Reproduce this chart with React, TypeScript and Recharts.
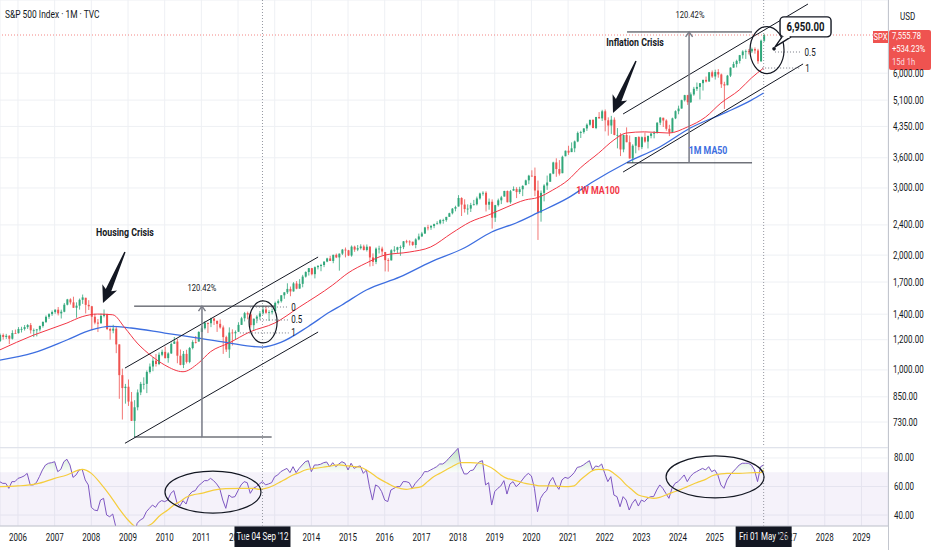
import React from "react";
import {
  Area,
  Bar,
  CartesianGrid,
  ComposedChart,
  Line,
  ReferenceArea,
  ReferenceDot,
  ReferenceLine,
  XAxis,
  YAxis,
} from "recharts";

const FONT = "Roboto, 'Noto Sans', sans-serif";
const SX = 0.8; // the screenshot's type is narrow, squeeze it horizontally
const INK = "#131722";
const UP = "#31a77b";
const DOWN = "#ef5350";
const GRID = "#eef0f4";
const MA_RED = "#f23645";
const MA_BLUE = "#3d6ee0";

// monthly bars, first one is Jun 2005; open = previous close
const FIRST_MONTH = "2005-06";
const FIRST_OPEN = 1191.5;

const CLOSE = [
  1191.3, 1234.2, 1220.3, 1228.8, 1207.0, 1249.5, 1248.3,
  1280.1, 1280.7, 1294.9, 1310.6, 1270.1, 1270.2, 1276.7, 1303.8, 1335.9, 1377.9, 1400.6, 1418.3,
  1438.2, 1406.8, 1420.9, 1482.4, 1530.6, 1503.4, 1455.3, 1474.0, 1526.8, 1549.4, 1481.1, 1468.4,
  1378.6, 1330.6, 1322.7, 1385.6, 1400.4, 1280.0, 1267.4, 1282.8, 1166.4, 968.8, 896.2, 903.3,
  825.9, 735.1, 797.9, 872.8, 919.1, 919.3, 987.5, 1020.6, 1057.1, 1036.2, 1095.6, 1115.1,
  1073.9, 1104.5, 1169.4, 1186.7, 1089.4, 1030.7, 1101.6, 1049.3, 1141.2, 1183.3, 1180.6, 1257.6,
  1286.1, 1327.2, 1325.8, 1363.6, 1345.2, 1320.6, 1292.3, 1218.9, 1131.4, 1253.3, 1247.0, 1257.6,
  1312.4, 1365.7, 1408.5, 1397.9, 1310.3, 1362.2, 1379.3, 1406.6, 1440.7, 1412.2, 1416.2, 1426.2,
  1498.1, 1514.7, 1569.2, 1597.6, 1630.7, 1606.3, 1685.7, 1633.0, 1681.6, 1756.5, 1805.8, 1848.4,
  1782.6, 1859.5, 1872.3, 1884.0, 1923.6, 1960.2, 1930.7, 2003.4, 1972.3, 2018.1, 2067.6, 2058.9,
  1995.0, 2104.5, 2067.9, 2085.5, 2107.4, 2063.1, 2103.8, 1972.2, 1920.0, 2079.4, 2080.4, 2043.9,
  1940.2, 1932.2, 2059.7, 2065.3, 2097.0, 2098.9, 2173.6, 2171.0, 2168.3, 2126.2, 2198.8, 2238.8,
  2278.9, 2363.6, 2362.7, 2384.2, 2411.8, 2423.4, 2470.3, 2471.7, 2519.4, 2575.3, 2647.6, 2673.6,
  2823.8, 2713.8, 2640.9, 2648.1, 2705.3, 2718.4, 2816.3, 2901.5, 2914.0, 2711.7, 2760.2, 2506.9,
  2704.1, 2784.5, 2834.4, 2945.8, 2752.1, 2941.8, 2980.4, 2926.5, 2976.7, 3037.6, 3141.0, 3230.8,
  3225.5, 2954.2, 2584.6, 2912.4, 3044.3, 3100.3, 3271.1, 3500.3, 3363.0, 3270.0, 3621.6, 3756.1,
  3714.2, 3811.2, 3972.9, 4181.2, 4204.1, 4297.5, 4395.3, 4522.7, 4307.5, 4605.4, 4567.0, 4766.2,
  4515.6, 4373.9, 4530.4, 4131.9, 4132.2, 3785.4, 4130.3, 3955.0, 3585.6, 3872.0, 4080.1, 3839.5,
  4076.6, 3970.2, 4109.3, 4169.5, 4179.8, 4450.4, 4589.0, 4507.7, 4288.1, 4193.8, 4567.8, 4769.8,
  4845.7, 5096.3, 5254.4, 5035.7, 5277.5, 5460.5, 5522.3, 5648.4, 5762.5, 5705.5, 6032.4, 5881.6,
  6040.5, 5954.5, 5611.9, 5569.1, 5911.7, 6205.0, 6339.4, 6460.3, 6688.5, 6840.0, 6849.0, 6845.5,
  6940.0, 6880.0, 6450.0, 7300.0, 7555.78,
];

const HIGH = [
  1219.6, 1245.2, 1245.9, 1243.1, 1233.3, 1270.6, 1275.8,
  1294.9, 1297.6, 1310.9, 1318.2, 1326.7, 1284.1, 1280.4, 1306.7, 1340.3, 1389.5, 1407.9, 1431.8,
  1441.6, 1461.6, 1438.9, 1498.0, 1535.6, 1540.6, 1555.9, 1503.9, 1538.7, 1576.1, 1545.8, 1523.6,
  1471.8, 1404.1, 1359.7, 1404.6, 1440.2, 1404.1, 1292.2, 1313.2, 1303.0, 1167.0, 1007.5, 918.9,
  943.9, 875.0, 833.0, 888.7, 930.2, 956.2, 996.7, 1039.5, 1080.2, 1101.4, 1111.1, 1130.4,
  1150.5, 1112.4, 1180.2, 1219.8, 1206.1, 1131.2, 1121.0, 1129.2, 1148.7, 1196.1, 1227.1, 1262.6,
  1302.7, 1344.1, 1332.3, 1370.6, 1370.6, 1345.2, 1356.5, 1307.4, 1229.3, 1292.7, 1277.6, 1269.4,
  1333.5, 1378.0, 1419.2, 1422.4, 1415.3, 1363.5, 1391.7, 1426.7, 1474.5, 1471.0, 1434.3, 1448.0,
  1509.9, 1530.9, 1570.3, 1597.6, 1687.2, 1654.2, 1698.8, 1709.7, 1729.9, 1775.2, 1813.6, 1849.4,
  1850.8, 1867.9, 1884.0, 1897.3, 1924.0, 1968.2, 1991.4, 2005.0, 2019.3, 2018.7, 2075.8, 2093.6,
  2064.4, 2119.6, 2117.5, 2125.9, 2134.7, 2129.9, 2132.8, 2112.7, 2020.9, 2094.3, 2116.5, 2104.3,
  2038.2, 1963.0, 2072.2, 2111.1, 2103.5, 2120.6, 2177.1, 2193.8, 2187.9, 2169.6, 2214.1, 2277.5,
  2301.0, 2371.5, 2401.1, 2398.2, 2418.7, 2453.8, 2484.0, 2491.0, 2519.4, 2583.0, 2657.7, 2695.0,
  2872.9, 2836.0, 2801.9, 2717.5, 2742.2, 2791.5, 2848.0, 2916.5, 2940.9, 2939.9, 2815.1, 2800.2,
  2709.0, 2813.5, 2860.3, 2949.5, 2954.1, 2964.2, 3028.0, 3013.6, 3022.0, 3050.1, 3154.3, 3247.9,
  3337.8, 3393.5, 3136.7, 2954.9, 3068.7, 3233.1, 3280.0, 3514.8, 3588.1, 3549.9, 3646.0, 3760.2,
  3870.9, 3950.4, 3994.4, 4218.8, 4238.0, 4302.4, 4430.0, 4537.4, 4545.8, 4608.1, 4743.8, 4808.9,
  4818.6, 4595.3, 4637.3, 4593.5, 4307.7, 4177.5, 4140.2, 4325.3, 4119.3, 3905.4, 4080.1, 4101.0,
  4094.2, 4195.4, 4110.8, 4170.1, 4231.1, 4458.5, 4607.1, 4584.6, 4541.3, 4393.6, 4587.6, 4793.3,
  4931.1, 5111.1, 5264.9, 5264.0, 5341.9, 5523.6, 5669.7, 5651.6, 5767.4, 5878.5, 6044.2, 6100.0,
  6128.2, 6147.4, 5986.1, 5695.3, 5938.6, 6215.1, 6427.0, 6508.2, 6699.5, 6890.0, 6920.0, 6940.0,
  7000.0, 7010.0, 6950.0, 7350.0, 7600.0,
];

const LOW = [
  1188.3, 1183.6, 1201.1, 1205.4, 1168.2, 1201.1, 1246.6,
  1245.7, 1253.6, 1268.1, 1280.7, 1245.3, 1219.3, 1224.5, 1261.3, 1290.9, 1327.1, 1360.9, 1385.9,
  1403.9, 1389.4, 1363.9, 1416.4, 1476.7, 1484.2, 1454.3, 1370.6, 1439.3, 1489.6, 1406.1, 1435.6,
  1270.1, 1316.8, 1257.0, 1324.4, 1373.1, 1272.0, 1200.4, 1247.5, 1106.4, 839.8, 741.0, 815.7,
  804.5, 734.5, 666.8, 783.3, 858.7, 888.9, 869.3, 978.5, 991.9, 1020.2, 1029.4, 1085.9,
  1071.6, 1044.5, 1101.4, 1170.7, 1040.8, 1028.3, 1010.9, 1039.7, 1041.1, 1131.9, 1173.0, 1186.6,
  1257.6, 1275.9, 1249.1, 1294.7, 1311.8, 1258.1, 1282.9, 1101.5, 1114.2, 1074.8, 1158.7, 1202.4,
  1258.9, 1312.0, 1340.0, 1357.4, 1292.0, 1266.7, 1325.4, 1354.7, 1396.6, 1403.3, 1343.4, 1398.1,
  1426.2, 1485.0, 1501.5, 1536.0, 1581.3, 1560.3, 1604.6, 1627.5, 1633.4, 1646.5, 1746.2, 1768.0,
  1770.5, 1737.9, 1834.4, 1814.4, 1859.8, 1916.0, 1930.7, 1904.8, 1964.0, 1820.7, 2001.0, 1972.6,
  1988.4, 1980.9, 2039.7, 2048.4, 2067.9, 2056.3, 2044.0, 1867.0, 1871.9, 1893.7, 2019.4, 1993.3,
  1812.3, 1810.1, 1937.1, 2033.8, 2025.9, 1991.7, 2074.0, 2147.6, 2119.1, 2114.7, 2083.8, 2187.4,
  2233.6, 2271.7, 2322.3, 2329.0, 2352.7, 2405.7, 2407.7, 2417.4, 2446.6, 2520.4, 2557.5, 2605.5,
  2682.4, 2532.7, 2585.9, 2553.8, 2594.6, 2698.7, 2699.0, 2796.3, 2864.1, 2603.5, 2631.1, 2346.6,
  2444.0, 2681.8, 2722.3, 2848.6, 2750.5, 2728.8, 2952.2, 2822.1, 2891.9, 2855.9, 3050.7, 3070.3,
  3214.6, 2855.8, 2191.9, 2447.5, 2766.6, 2965.7, 3115.0, 3260.0, 3209.5, 3233.9, 3279.7, 3633.4,
  3662.7, 3725.6, 3723.3, 3955.3, 4056.9, 4164.4, 4233.1, 4367.7, 4305.9, 4278.9, 4560.0, 4495.1,
  4222.6, 4114.7, 4157.9, 4124.3, 3810.3, 3636.9, 3721.6, 3954.5, 3584.1, 3491.6, 3698.2, 3764.5,
  3794.3, 3943.1, 3808.9, 4049.3, 4048.3, 4166.2, 4385.1, 4335.3, 4238.6, 4103.8, 4197.7, 4546.5,
  4682.1, 4845.2, 5056.8, 4953.6, 5011.1, 5234.3, 5391.0, 5119.3, 5402.6, 5674.0, 5696.5, 5832.3,
  5773.3, 5837.7, 5488.7, 4835.0, 5578.6, 5861.4, 6201.6, 6212.7, 6360.6, 6550.0, 6540.0, 6720.0,
  6780.0, 6750.0, 6350.0, 6420.0, 7250.0,
];

const RSI = [
  63.0, 63.4, 62.2, 62.2, 58.7, 63.4, 63.4,
  65.7, 66.4, 67.4, 69.2, 61.1, 61.1, 62.7, 66.9, 71.6, 75.1, 76.3, 76.7,
  77.4, 70.4, 72.0, 77.4, 79.1, 75.1, 66.4, 68.1, 71.6, 72.0, 64.6, 61.1,
  45.4, 43.5, 43.0, 50.5, 51.7, 40.0, 38.8, 40.7, 31.8, 25.0, 22.0, 23.0,
  22.0, 19.0, 26.0, 34.2, 36.5, 37.7, 42.3, 44.7, 47.0, 45.4, 48.7, 50.1,
  49.4, 50.5, 55.2, 57.1, 48.7, 46.3, 50.1, 47.7, 54.0, 56.4, 57.1, 60.4,
  62.2, 64.1, 64.1, 65.7, 64.1, 61.8, 58.7, 50.5, 44.7, 54.0, 52.4, 52.9,
  57.1, 61.1, 63.4, 62.7, 55.2, 58.7, 59.9, 61.8, 63.4, 61.1, 61.8, 62.7,
  66.9, 68.1, 70.4, 71.6, 72.7, 69.7, 73.9, 69.7, 72.7, 75.1, 77.4, 78.1,
  70.4, 75.1, 75.1, 75.6, 76.7, 77.2, 73.9, 76.7, 73.9, 75.8, 77.4, 76.3,
  71.6, 76.3, 72.7, 73.9, 74.4, 69.2, 71.6, 59.9, 50.5, 61.1, 59.9, 56.4,
  50.5, 49.4, 57.5, 58.7, 59.9, 59.9, 63.4, 63.4, 62.7, 58.7, 62.2, 64.6,
  66.9, 70.4, 70.4, 71.6, 72.7, 73.9, 75.8, 75.8, 77.4, 79.8, 82.1, 84.4,
  86.8, 73.9, 68.8, 68.8, 71.1, 71.6, 75.1, 77.4, 78.1, 61.1, 62.7, 47.0,
  56.4, 58.7, 60.4, 64.1, 54.7, 61.8, 63.4, 59.9, 61.8, 64.6, 67.4, 69.2,
  67.4, 58.7, 42.3, 51.7, 55.2, 57.1, 63.4, 66.4, 61.1, 58.0, 64.6, 66.4,
  65.7, 67.4, 69.7, 73.4, 73.9, 75.1, 76.7, 78.1, 71.6, 74.4, 73.9, 75.8,
  69.2, 63.4, 66.9, 54.0, 52.9, 45.8, 52.9, 50.5, 43.5, 48.2, 51.0, 46.3,
  50.5, 49.4, 51.7, 52.9, 52.9, 57.5, 61.1, 58.7, 55.2, 51.7, 58.7, 62.2,
  63.4, 65.7, 68.1, 63.4, 66.9, 69.2, 70.4, 71.6, 72.7, 71.6, 73.9, 70.4,
  71.6, 68.1, 61.1, 58.7, 64.6, 68.1, 70.4, 72.7, 75.1, 76.3, 76.3, 76.3,
  75.1, 71.6, 63.4, 73.9, 75.1,
];

// indicator lines at a few dates
const MA100W: [string, number][] = [
  ["2005-07", 1128], ["2006-06", 1233], ["2007-05", 1327], ["2007-10", 1379],
  ["2008-03", 1401], ["2008-08", 1395], ["2008-12", 1288], ["2009-04", 1176],
  ["2009-09", 1083], ["2010-01", 1030], ["2010-07", 989], ["2010-12", 1041],
  ["2011-04", 1116], ["2011-10", 1176], ["2012-05", 1259], ["2013-01", 1327],
  ["2013-09", 1460], ["2014-08", 1670], ["2015-01", 1795], ["2015-07", 1907],
  ["2016-01", 2000], ["2016-09", 2037], ["2017-04", 2100], ["2017-11", 2285],
  ["2018-05", 2444], ["2018-11", 2549], ["2019-05", 2674], ["2019-11", 2791],
  ["2020-03", 2830], ["2020-08", 2963], ["2021-01", 3147], ["2021-05", 3385],
  ["2021-11", 3703], ["2022-04", 4009], ["2022-08", 4180], ["2023-02", 4210],
  ["2023-10", 4180], ["2024-04", 4334], ["2024-10", 4604], ["2025-03", 5009],
  ["2025-09", 5421], ["2026-01", 5828], ["2026-05", 6190],
];

const MA50M: [string, number][] = [
  ["2005-07", 1061], ["2006-06", 1108], ["2007-05", 1198], ["2008-01", 1273],
  ["2008-07", 1300], ["2009-02", 1288], ["2010-01", 1249], ["2010-12", 1212],
  ["2011-09", 1181], ["2012-09", 1148], ["2013-03", 1181], ["2013-12", 1300],
  ["2014-07", 1418], ["2014-11", 1480], ["2015-07", 1620], ["2016-06", 1753],
  ["2017-04", 1918], ["2018-03", 2088], ["2018-12", 2300], ["2019-08", 2428],
  ["2020-03", 2580], ["2021-01", 2825], ["2021-09", 3109], ["2022-08", 3489],
  ["2023-07", 3843], ["2024-05", 4309], ["2025-05", 4748], ["2026-01", 5100],
  ["2026-05", 5323],
];

const RSI_MA: [string, number][] = [
  ["2005-07", 59.9], ["2006-01", 60.4], ["2006-07", 61.8], ["2007-01", 65.7],
  ["2007-05", 68.1], ["2007-10", 72.0], ["2008-01", 69.2], ["2008-04", 62.2],
  ["2008-07", 54.0], ["2008-10", 44.7], ["2009-01", 36.5], ["2009-03", 32.3],
  ["2009-05", 29.5], ["2009-07", 31.8], ["2009-09", 34.2], ["2009-11", 38.8],
  ["2010-02", 43.5], ["2010-04", 47.0], ["2010-06", 49.4], ["2010-08", 52.4],
  ["2010-10", 54.0], ["2011-01", 55.2], ["2011-05", 57.5], ["2011-09", 58.5],
  ["2012-02", 58.7], ["2012-06", 58.7], ["2012-08", 58.0], ["2012-10", 58.7],
  ["2013-01", 61.1], ["2013-03", 63.4], ["2013-05", 65.7], ["2013-07", 68.1],
  ["2013-09", 69.7], ["2013-11", 71.6], ["2014-02", 72.7], ["2014-06", 73.9],
  ["2014-10", 75.1], ["2015-01", 74.4], ["2015-05", 73.5], ["2015-07", 71.6],
  ["2015-09", 68.8], ["2015-11", 65.7], ["2016-02", 62.2], ["2016-04", 59.9],
  ["2016-06", 58.7], ["2016-08", 58.0], ["2016-10", 58.7], ["2017-01", 59.9],
  ["2017-03", 63.4], ["2017-05", 66.9], ["2017-07", 69.2], ["2017-09", 71.6],
  ["2017-11", 73.9], ["2018-02", 76.7], ["2018-05", 76.7], ["2018-08", 76.3],
  ["2018-10", 75.1], ["2019-01", 71.6], ["2019-03", 68.1], ["2019-05", 65.7],
  ["2019-07", 64.6], ["2019-09", 63.4], ["2019-11", 62.2], ["2020-02", 61.1],
  ["2020-04", 60.4], ["2020-08", 60.4], ["2021-01", 59.9], ["2021-03", 60.4],
  ["2021-05", 64.6], ["2021-07", 68.1], ["2021-09", 71.1], ["2021-11", 72.0],
  ["2022-02", 71.6], ["2022-04", 69.2], ["2022-06", 65.7], ["2022-08", 61.1],
  ["2022-10", 57.5], ["2022-12", 54.0], ["2023-03", 52.4], ["2023-05", 51.7],
  ["2023-07", 52.4], ["2023-09", 54.0], ["2023-11", 55.7], ["2024-02", 58.0],
  ["2024-04", 59.9], ["2024-06", 61.8], ["2024-08", 63.4], ["2024-10", 65.0],
  ["2024-12", 67.4], ["2025-03", 68.8], ["2025-05", 69.2], ["2025-09", 69.2],
  ["2026-02", 69.7], ["2026-04", 69.7], ["2026-05", 71.6],
];

const YEARS = [
  2006, 2007, 2008, 2009, 2010, 2011, 2012, 2013, 2014, 2015, 2016, 2017,
  2018, 2019, 2020, 2021, 2022, 2023, 2024, 2025, 2026, 2027, 2028, 2029,
];
const HIDDEN_YEARS = [2013, 2026];
const PRICE_TICKS = [730, 850, 1000, 1200, 1400, 1700, 2000, 2400, 3000, 3600, 4350, 5100, 6000];
const RSI_TICKS = [40, 60, 80];

const LAST_PRICE = 7555.78;
const LAST_CHANGE = "+534.23%";
const COUNTDOWN = "15d 1h";
const TARGET = 6950;
const MOVE_LABEL = "120.42%";
const CROSS_A = "2012-09";
const CROSS_B = "2026-05";

const monthIndex = (s: string) => {
  const [y, m] = s.split("-").map(Number);
  return (y - 2006) * 12 + (m - 1);
};

const START = monthIndex(FIRST_MONTH);
const X_DOMAIN = [-5.89, 284.69];
const PRICE_DOMAIN = [624, 9334];
const RSI_DOMAIN = [32.3, 87];

const rows = CLOSE.map((close, i) => ({
  t: START + i,
  open: i === 0 ? FIRST_OPEN : CLOSE[i - 1],
  high: HIGH[i],
  low: LOW[i],
  close,
  rsi: RSI[i],
}));

const toPoints = (pairs: [string, number][]) => pairs.map(([d, v]) => ({ t: monthIndex(d), v }));
const ma100 = toPoints(MA100W);
const ma50 = toPoints(MA50M);
const rsiMa = toPoints(RSI_MA);
const yearTicks = YEARS.map((y) => monthIndex(`${y}-01`));

const money = (v: number) => v.toLocaleString("en-US", { minimumFractionDigits: 2, maximumFractionDigits: 2 });

// svg text squeezed horizontally around its anchor point
const SText = ({ x, y, children, size = 10, weight = 400, fill = INK, anchor = "middle", dy = "0.35em" }: any) => (
  <text
    transform={`translate(${x},${y}) scale(${SX},1)`}
    x={0}
    y={0}
    dy={dy}
    fontSize={size}
    fontWeight={weight}
    fontFamily={FONT}
    fill={fill}
    textAnchor={anchor}
  >
    {children}
  </text>
);

const PriceTick = (p: any) => (
  <SText x={p.x} y={p.y} anchor="start">
    {money(p.payload.value)}
  </SText>
);

const RsiTick = (p: any) => (
  <SText x={p.x} y={p.y} anchor="start">
    {p.payload.value.toFixed(2)}
  </SText>
);

const YearTick = (p: any) => {
  const year = 2006 + Math.round(p.payload.value / 12);
  if (HIDDEN_YEARS.includes(year)) return <g />;
  return (
    <SText x={p.x} y={p.y} dy="0.71em">
      {String(year)}
    </SText>
  );
};

const Candle = (props: any) => {
  const { x, y, width, height, payload } = props;
  if (!payload || height == null) return null;
  const top = Math.min(y, y + height);
  const span = Math.abs(height);
  const lh = Math.log(payload.high);
  const ll = Math.log(payload.low);
  const at = (p: number) => {
    const c = Math.min(Math.max(p, payload.low), payload.high);
    return lh > ll ? top + (span * (lh - Math.log(c))) / (lh - ll) : top;
  };
  const color = payload.close >= payload.open ? UP : DOWN;
  const bTop = at(Math.max(payload.open, payload.close));
  const bBot = at(Math.min(payload.open, payload.close));
  const cx = x + width / 2;
  return (
    <g>
      <line x1={cx} x2={cx} y1={top} y2={top + span} stroke={color} strokeWidth={0.8} />
      <rect x={x} y={bTop} width={width} height={Math.max(bBot - bTop, 0.8)} fill={color} />
    </g>
  );
};

const note =
  (text: string, color = INK, size = 10, weight = 400, anchor = "middle") =>
  (p: any) => (
    <SText x={p.cx} y={p.cy} fill={color} size={size} weight={weight} anchor={anchor}>
      {text}
    </SText>
  );

const ring = (rx: number, ry: number) => (p: any) => (
  <ellipse cx={p.cx} cy={p.cy} rx={rx} ry={ry} fill="none" stroke={INK} strokeWidth={1.2} />
);

const arrowUp = (p: any) => (
  <path
    d={`M${p.cx - 3.5},${p.cy + 5} L${p.cx},${p.cy} L${p.cx + 3.5},${p.cy + 5}`}
    fill="none"
    stroke="#787b86"
    strokeWidth={1.4}
  />
);

// black marker arrow, tip at the point, tail offset in px
const crisisArrow = (dx: number, dy: number) => (p: any) => {
  const len = Math.hypot(dx, dy);
  const ux = dx / len;
  const uy = dy / len;
  const nx = -uy;
  const ny = ux;
  const pt = (a: number, b: number) => `${p.cx + ux * a + nx * b},${p.cy + uy * a + ny * b}`;
  const pts = [pt(0, 0), pt(17, 8), pt(14, 3), pt(len, 0.7), pt(len, -0.7), pt(14, -3), pt(17, -8)];
  return <polygon points={pts.join(" ")} fill={INK} />;
};

const Callout = (p: any) => {
  const { cx, cy } = p;
  const bx = cx + 6;
  const by = cy - 32;
  const bw = 51;
  const bh = 20;
  return (
    <g>
      <rect x={bx} y={by} width={bw} height={bh} rx={4} fill="#fff" stroke={INK} strokeWidth={1.4} />
      <path
        d={`M${cx + 8},${by + bh} L${cx + 1},${cy - 2} L${cx + 17},${by + bh}`}
        fill="#fff"
        stroke={INK}
        strokeWidth={1.4}
        strokeLinejoin="round"
      />
      <line x1={cx + 9.5} x2={cx + 15.5} y1={by + bh} y2={by + bh} stroke="#fff" strokeWidth={2} />
      <circle cx={cx} cy={cy} r={1.8} fill={INK} />
      <SText x={bx + bw / 2} y={by + bh / 2} size={12} weight={700}>
        {money(TARGET)}
      </SText>
    </g>
  );
};

const PriceTag = (props: any) => {
  const vb = props.viewBox;
  if (!vb) return null;
  const x = vb.x + vb.width;
  const y = vb.y;
  return (
    <g>
      <rect x={x - 15} y={y - 4} width={15} height={12} fill={DOWN} />
      <SText x={x - 7.5} y={y + 2} size={9.5} fill="#fff">
        SPX
      </SText>
      <rect x={x + 1} y={y - 5} width={42} height={40} rx={2} fill={DOWN} />
      <SText x={x + 4} y={y + 1} size={9.5} fill="#fff" anchor="start">
        {money(LAST_PRICE)}
      </SText>
      <SText x={x + 4} y={y + 14} size={9.5} fill="#fff" anchor="start">
        {LAST_CHANGE}
      </SText>
      <SText x={x + 4} y={y + 27} size={9.5} fill="#fcdfe2" anchor="start">
        {COUNTDOWN}
      </SText>
    </g>
  );
};

const dateTag = (text: string) => (props: any) => {
  const vb = props.viewBox;
  if (!vb) return null;
  const y = vb.y + vb.height;
  return (
    <g>
      <rect x={vb.x - 28} y={y} width={56} height={21} fill={INK} />
      <SText x={vb.x} y={y + 10.5} size={10} fill="#fff">
        {text}
      </SText>
    </g>
  );
};

const seg = (x1: number, y1: number, x2: number, y2: number) => [
  { x: x1, y: y1 },
  { x: x2, y: y2 },
];

const crossA = monthIndex(CROSS_A);
const crossB = monthIndex(CROSS_B);

export default function App() {
  return (
    <div
      style={{
        position: "absolute",
        left: 0,
        top: 0,
        width: 932,
        height: 550,
        background: "#fff",
        overflow: "hidden",
        fontFamily: FONT,
      }}
    >
      <ComposedChart width={932} height={448} data={rows} margin={{ top: 0, right: 0, bottom: 0, left: 0 }}>
        <CartesianGrid stroke={GRID} />
        <XAxis
          type="number"
          dataKey="t"
          domain={X_DOMAIN}
          ticks={yearTicks}
          allowDataOverflow
          hide
          height={0}
        />
        <YAxis
          orientation="right"
          scale="log"
          domain={PRICE_DOMAIN}
          ticks={PRICE_TICKS}
          allowDataOverflow
          width={44}
          axisLine={false}
          tickLine={false}
          tickSize={4}
          tickMargin={1}
          tick={PriceTick}
        />

        <ReferenceLine x={crossA} stroke="#9598a1" strokeDasharray="1 2" />
        <ReferenceLine x={crossB} stroke="#9598a1" strokeDasharray="1 2" />

        <Bar
          dataKey={(d: any) => [d.low, d.high]}
          shape={Candle}
          barSize={2}
          isAnimationActive={false}
        />
        <Line
          data={ma50}
          dataKey="v"
          type="monotone"
          stroke={MA_BLUE}
          strokeWidth={1.3}
          dot={false}
          activeDot={false}
          isAnimationActive={false}
        />
        <Line
          data={ma100}
          dataKey="v"
          type="monotone"
          stroke={MA_RED}
          strokeWidth={1}
          dot={false}
          activeDot={false}
          isAnimationActive={false}
        />

        {/* 2009 channel and move */}
        <ReferenceLine segment={seg(35, 1011, 98.2, 1977)} stroke={INK} strokeWidth={1} />
        <ReferenceLine segment={seg(35, 642, 98.2, 1257)} stroke={INK} strokeWidth={1} />
        <ReferenceLine segment={seg(38, 666.8, 83, 666.8)} stroke="#2a2e39" strokeWidth={1} />
        <ReferenceLine segment={seg(38, 1469.7, 84, 1469.7)} stroke="#2a2e39" strokeWidth={1} />
        <ReferenceLine segment={seg(60.2, 666.8, 60.2, 1469.7)} stroke="#787b86" strokeWidth={1.5} />
        <ReferenceDot x={60.2} y={1469.7} r={2} shape={arrowUp} />
        <ReferenceDot x={60.2} y={1639} r={2} shape={note(MOVE_LABEL, INK, 9.5)} />
        <ReferenceLine segment={seg(75.9, 1462, 88.6, 1462)} stroke="#787b86" strokeDasharray="1 2" />
        <ReferenceLine segment={seg(77.2, 1352, 88.6, 1352)} stroke="#787b86" strokeDasharray="1 2" />
        <ReferenceLine segment={seg(72.6, 1250, 88.6, 1250)} stroke="#787b86" strokeDasharray="1 2" />
        <ReferenceDot x={89.4} y={1462} r={2} shape={note("0", INK, 10, 400, "start")} />
        <ReferenceDot x={89.4} y={1352} r={2} shape={note("0.5", INK, 10, 400, "start")} />
        <ReferenceDot x={89.4} y={1250} r={2} shape={note("1", INK, 10, 400, "start")} />
        <ReferenceDot x={80.2} y={1336} r={2} shape={ring(14, 21)} />

        {/* 2022 channel and move */}
        <ReferenceLine segment={seg(198, 4690, 258.5, 9110)} stroke={INK} strokeWidth={1} />
        <ReferenceLine segment={seg(198, 3303, 256.9, 6343)} stroke={INK} strokeWidth={1} />
        <ReferenceLine segment={seg(199.3, 7696, 240.2, 7696)} stroke="#2a2e39" strokeWidth={1} />
        <ReferenceLine segment={seg(199.3, 3491.6, 240.2, 3491.6)} stroke="#2a2e39" strokeWidth={1} />
        <ReferenceLine segment={seg(219.6, 3491.6, 219.6, 7696)} stroke="#787b86" strokeWidth={1.5} />
        <ReferenceDot x={219.6} y={7696} r={2} shape={arrowUp} />
        <ReferenceDot x={219.9} y={8526} r={2} shape={note(MOVE_LABEL, INK, 9.5)} />
        <ReferenceLine segment={seg(247.7, 6818, 255.9, 6818)} stroke="#787b86" strokeDasharray="1 2" />
        <ReferenceLine segment={seg(243.5, 6190, 255.9, 6190)} stroke="#787b86" strokeDasharray="1 2" />
        <ReferenceDot x={257.4} y={6818} r={2} shape={note("0.5", INK, 10, 400, "start")} />
        <ReferenceDot x={257.6} y={6190} r={2} shape={note("1", INK, 10, 400, "start")} />
        <ReferenceDot x={245.1} y={6900} r={2} shape={ring(17, 23.5)} />

        <ReferenceDot x={35} y={2299} r={2} shape={note("Housing Crisis", INK, 11, 700)} />
        <ReferenceDot x={27.8} y={1498} r={2} shape={crisisArrow(22, -51)} />
        <ReferenceDot x={201.9} y={7256} r={2} shape={note("Inflation Crisis", INK, 11, 700)} />
        <ReferenceDot x={194.7} y={4720} r={2} shape={crisisArrow(23, -52)} />
        <ReferenceDot x={189.8} y={2963} r={2} shape={note("1W MA100", MA_RED, 11, 700)} />
        <ReferenceDot x={225.8} y={3775} r={2} shape={note("1M MA50", MA_BLUE, 11, 700)} />

        <ReferenceLine
          y={LAST_PRICE}
          stroke={DOWN}
          strokeOpacity={0.7}
          strokeDasharray="1 2"
          label={(p: any) => <PriceTag {...p} />}
        />
        <ReferenceDot x={247.4} y={TARGET} r={2} shape={Callout} />
      </ComposedChart>

      <div style={{ position: "absolute", left: 0, top: 447, width: 888, height: 1, background: "#e0e3eb" }} />

      <div style={{ position: "absolute", left: 0, top: 448 }}>
        <ComposedChart width={932} height={102} data={rows} margin={{ top: 0, right: 0, bottom: 0, left: 0 }}>
          <defs>
            <linearGradient id="obFill" x1="0" y1="0" x2="0" y2="1">
              <stop offset="0%" stopColor="#4caf50" stopOpacity={0.55} />
              <stop offset="100%" stopColor="#4caf50" stopOpacity={0.04} />
            </linearGradient>
          </defs>
          <CartesianGrid stroke={GRID} />
          <ReferenceArea y1={30} y2={70} fill="#7e57c2" fillOpacity={0.08} stroke="none" ifOverflow="hidden" />
          <XAxis
            type="number"
            dataKey="t"
            domain={X_DOMAIN}
            ticks={yearTicks}
            allowDataOverflow
            height={24}
            tickLine={false}
            axisLine={{ stroke: "#c3c6ce" }}
            tick={YearTick}
          />
          <YAxis
            orientation="right"
            domain={RSI_DOMAIN}
            ticks={RSI_TICKS}
            allowDataOverflow
            width={44}
            axisLine={false}
            tickLine={false}
            tickSize={4}
            tickMargin={2}
            tick={RsiTick}
          />
          <Area
            dataKey={(d: any) => [70, Math.max(70, d.rsi)]}
            fill="url(#obFill)"
            stroke="none"
            dot={false}
            activeDot={false}
            isAnimationActive={false}
          />
          <Line
            dataKey="rsi"
            stroke="#7e57c2"
            strokeWidth={1}
            dot={false}
            activeDot={false}
            isAnimationActive={false}
          />
          <Line
            data={rsiMa}
            dataKey="v"
            type="monotone"
            stroke="#f5cd3c"
            strokeWidth={1.2}
            dot={false}
            activeDot={false}
            isAnimationActive={false}
          />
          <ReferenceDot x={63.8} y={56.1} r={2} shape={ring(48, 21)} />
          <ReferenceDot x={228.1} y={66.7} r={2} shape={ring(49, 21)} />
          <ReferenceLine x={crossA} stroke="#9598a1" strokeDasharray="1 2" label={dateTag("Tue 04 Sep '12")} />
          <ReferenceLine x={crossB} stroke="#9598a1" strokeDasharray="1 2" label={dateTag("Fri 01 May '26")} />
        </ComposedChart>
      </div>

      <div style={{ position: "absolute", left: 888, top: 0, width: 1, height: 550, background: "#c3c6ce" }} />

      <div
        style={{
          position: "absolute",
          left: 5,
          top: 8,
          fontSize: 10.5,
          lineHeight: "14px",
          color: INK,
          whiteSpace: "nowrap",
          transform: `scaleX(${SX})`,
          transformOrigin: "0 0",
        }}
      >
        S&amp;P 500 Index · 1M · TVC
      </div>
      <div
        style={{
          position: "absolute",
          left: 900,
          top: 10,
          fontSize: 10,
          lineHeight: "14px",
          color: INK,
          transform: `scaleX(${SX})`,
          transformOrigin: "0 0",
        }}
      >
        USD
      </div>
    </div>
  );
}
